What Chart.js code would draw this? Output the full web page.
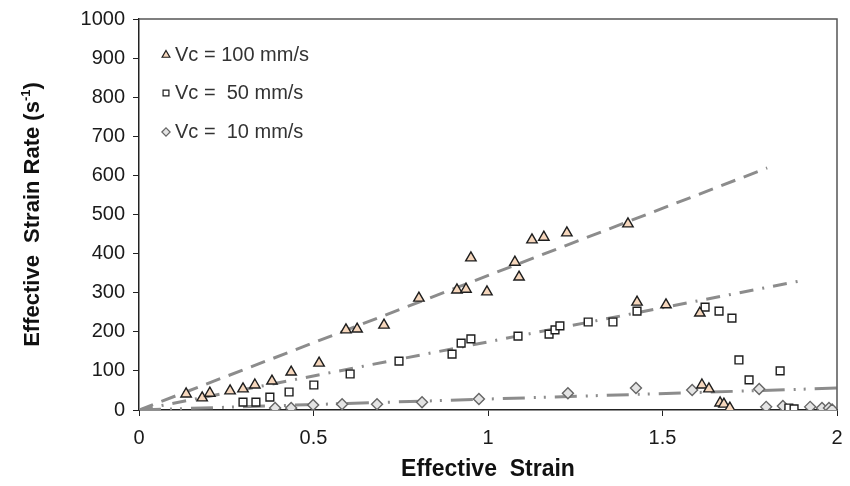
<!DOCTYPE html>
<html>
<head>
<meta charset="utf-8">
<script src="https://cdn.jsdelivr.net/npm/chart.js@4.4.1/dist/chart.umd.min.js"></script>
<style>
  html, body { margin: 0; padding: 0; background: #fff; }
  #wrap { position: relative; width: 850px; height: 486px; }
</style>
</head>
<body>
<div id="wrap"><canvas id="rateChart"></canvas></div>
<script>
// axis ticks
const strainTicks = [0, 0.5, 1, 1.5, 2];
const strainLabels = ['0', '0.5', '1', '1.5', '2'];
const rateTicks = [0, 100, 200, 300, 400, 500, 600, 700, 800, 900, 1000];
const rateLabels = ['0', '100', '200', '300', '400', '500', '600', '700', '800', '900', '1000'];

// Vc = 100 mm/s
const v100Strain = [0.135, 0.181, 0.203, 0.261, 0.298, 0.332, 0.381, 0.436, 0.516, 0.593, 0.625, 0.702, 0.802, 0.911, 0.937, 0.951, 0.997, 1.077, 1.089, 1.126, 1.160, 1.226, 1.401, 1.427, 1.510, 1.607, 1.613, 1.633, 1.665, 1.676, 1.693];
const v100Rate = [41, 31, 43, 49, 54, 64, 74, 97, 120, 205, 207, 217, 286, 307, 309, 389, 302, 378, 340, 435, 442, 453, 476, 276, 269, 248, 64, 54, 18, 15, 5];

// Vc = 50 mm/s
const v50Strain = [0.298, 0.335, 0.375, 0.430, 0.501, 0.605, 0.745, 0.897, 0.923, 0.951, 1.086, 1.175, 1.192, 1.206, 1.287, 1.358, 1.427, 1.622, 1.662, 1.699, 1.719, 1.748, 1.837, 1.862, 1.877];
const v50Rate = [20, 20, 33, 46, 64, 92, 125, 143, 171, 182, 189, 194, 205, 215, 225, 225, 253, 263, 253, 235, 128, 77, 100, 5, 3];

// Vc = 10 mm/s
const v10Strain = [0.390, 0.436, 0.499, 0.582, 0.682, 0.811, 0.974, 1.229, 1.424, 1.585, 1.777, 1.797, 1.845, 1.923, 1.957, 1.977, 1.986];
const v10Rate = [5, 5, 13, 15, 15, 20, 28, 43, 56, 51, 54, 8, 10, 8, 5, 5, 1];

// linear trend lines (end points)
const fit100Strain = [0, 1.8];
const fit100Rate = [0, 619];
const fit50Strain = [0, 1.905];
const fit50Rate = [0, 332];
const fit10Strain = [0, 2.0];
const fit10Rate = [0, 56];

const FONT = "'Liberation Sans', Arial, sans-serif";

function pts(xs, ys) {
  return xs.map((x, i) => ({ x: x, y: ys[i] }));
}

function fitLine(xs, ys, dash) {
  return {
    label: '',
    data: pts(xs, ys),
    showLine: true,
    pointRadius: 0,
    borderColor: '#8c8c8c',
    borderWidth: 3,
    borderDash: dash,
    fill: false
  };
}

// legend, axis titles and top/right frame
const decorations = {
  id: 'decorations',
  afterDraw(chart) {
    const ctx = chart.ctx;
    const a = chart.chartArea;
    ctx.save();

    ctx.strokeStyle = '#555';
    ctx.lineWidth = 1.5;
    ctx.beginPath();
    ctx.moveTo(a.left, a.top);
    ctx.lineTo(a.right, a.top);
    ctx.lineTo(a.right, a.bottom);
    ctx.stroke();

    // legend entries
    const rows = [36, 74, 113];
    chart.data.datasets.slice(0, 3).forEach((ds, i) => {
      const x = a.left + 27, y = a.top + rows[i];
      ctx.fillStyle = ds.backgroundColor;
      ctx.strokeStyle = ds.borderColor;
      ctx.lineWidth = 1.2;
      Chart.helpers.drawPoint(ctx, {
        pointStyle: ds.pointStyle,
        radius: ds.pointRadius * 0.75,
        rotation: 0,
        borderWidth: 1.2
      }, x, y);
      ctx.fillStyle = '#333';
      ctx.font = '20px ' + FONT;
      ctx.textBaseline = 'middle';
      ctx.textAlign = 'left';
      ctx.fillText(ds.label, x + 9, y);
    });

    ctx.fillStyle = '#111';
    ctx.font = 'bold 23px ' + FONT;
    ctx.textAlign = 'center';
    ctx.textBaseline = 'middle';
    ctx.fillText('Effective  Strain', (a.left + a.right) / 2, 470);

    // y title with superscript
    ctx.translate(33, (a.top + a.bottom) / 2);
    ctx.rotate(-Math.PI / 2);
    const main = 'Effective  Strain Rate (s';
    const sup = '-1';
    const close = ')';
    ctx.font = 'bold 22px ' + FONT;
    const w1 = ctx.measureText(main).width;
    const w3 = ctx.measureText(close).width;
    ctx.font = 'bold 13px ' + FONT;
    const w2 = ctx.measureText(sup).width;
    let x0 = -(w1 + w2 + w3) / 2;
    ctx.textAlign = 'left';
    ctx.font = 'bold 22px ' + FONT;
    ctx.fillText(main, x0, 0);
    ctx.font = 'bold 13px ' + FONT;
    ctx.fillText(sup, x0 + w1, -7);
    ctx.font = 'bold 22px ' + FONT;
    ctx.fillText(close, x0 + w1 + w2, 0);
    ctx.restore();
  }
};

new Chart(document.getElementById('rateChart'), {
  type: 'scatter',
  data: {
    datasets: [
      {
        label: 'Vc = 100 mm/s',
        data: pts(v100Strain, v100Rate),
        pointStyle: 'triangle',
        pointRadius: 6,
        backgroundColor: '#f6d7bd',
        borderColor: '#1e1e1e',
        borderWidth: 1.4
      },
      {
        label: 'Vc =  50 mm/s',
        data: pts(v50Strain, v50Rate),
        pointStyle: 'rect',
        pointRadius: 5.5,
        backgroundColor: '#ffffff',
        borderColor: '#1e1e1e',
        borderWidth: 1.4
      },
      {
        label: 'Vc =  10 mm/s',
        data: pts(v10Strain, v10Rate),
        pointStyle: 'rectRot',
        pointRadius: 5.5,
        backgroundColor: '#e4e4e4',
        borderColor: '#666666',
        borderWidth: 1.4
      },
      fitLine(fit100Strain, fit100Rate, [15, 9]),
      fitLine(fit50Strain, fit50Rate, [14, 9, 2, 9]),
      fitLine(fit10Strain, fit10Rate, [22, 9, 2, 8, 2, 9])
    ]
  },
  options: {
    responsive: true,
    maintainAspectRatio: false,
    animation: false,
    layout: { padding: { left: 0, right: 13, top: 19, bottom: 0 } },
    plugins: {
      legend: { display: false },
      tooltip: { enabled: false }
    },
    scales: {
      x: {
        type: 'linear',
        min: 0,
        max: 2,
        afterBuildTicks: s => { s.ticks = strainTicks.map(v => ({ value: v })); },
        afterFit: s => { s.height = 76; s.paddingLeft = 0; s.paddingRight = 0; },
        grid: { display: true, drawOnChartArea: false, drawTicks: true, tickLength: 6, color: '#222' },
        border: { color: '#222', width: 1.5 },
        ticks: {
          color: '#1a1a1a', padding: 10, font: { family: FONT, size: 20 },
          callback: (v, i) => strainLabels[i]
        }
      },
      y: {
        type: 'linear',
        min: 0,
        max: 1000,
        afterBuildTicks: s => { s.ticks = rateTicks.map(v => ({ value: v })); },
        afterFit: s => { s.width = 139; s.paddingTop = 0; s.paddingBottom = 0; },
        grid: { display: true, drawOnChartArea: false, drawTicks: true, tickLength: 6, color: '#222' },
        border: { color: '#222', width: 1.5 },
        ticks: {
          color: '#1a1a1a', padding: 8, font: { family: FONT, size: 20 },
          callback: (v, i) => rateLabels[i]
        }
      }
    }
  },
  plugins: [decorations]
});
</script>
</body>
</html>
